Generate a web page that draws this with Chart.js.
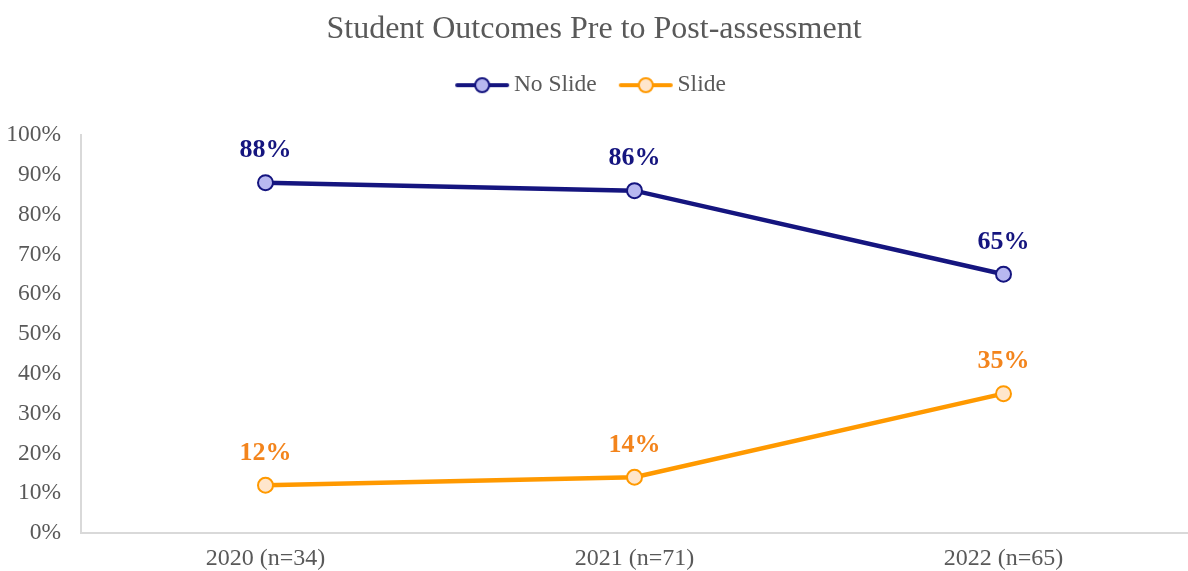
<!DOCTYPE html>
<html>
<head>
<meta charset="utf-8">
<script src="https://cdn.jsdelivr.net/npm/chart.js@4.4.0/dist/chart.umd.min.js"></script>
<style>
  html, body { margin: 0; padding: 0; background: #fff; }
  #wrap { width: 1188px; height: 571px; }
</style>
</head>
<body>
<div id="wrap"><canvas id="chart"></canvas></div>
<script>
// Datos del gráfico
const categories = ['2020 (n=34)', '2021 (n=71)', '2022 (n=65)'];
const noSlide = [88, 86, 65];
const slide = [12, 14, 35];
const yTicks = [0, 10, 20, 30, 40, 50, 60, 70, 80, 90, 100];

const navy = '#15157f';
const navyFill = '#b8b8f0';
const orange = '#ff9900';
const orangeFill = '#ffe6cc';
const orangeText = '#f3841c';
const grey = '#595959';
const serif = '"Liberation Serif", "Times New Roman", serif';

// Icono de la leyenda: línea con círculo
function legendIcon(stroke, fill) {
    const c = document.createElement('canvas');
    c.width = 56; c.height = 20;
    const g = c.getContext('2d');
    g.strokeStyle = stroke;
    g.lineWidth = 4;
    g.lineCap = 'round';
    g.beginPath();
    g.moveTo(3, 10); g.lineTo(53, 10);
    g.stroke();
    g.beginPath();
    g.arc(28, 10, 7, 0, Math.PI * 2);
    g.fillStyle = fill;
    g.fill();
    g.lineWidth = 2;
    g.stroke();
    return c;
}
const icons = [legendIcon(navy, navyFill), legendIcon(orange, orangeFill)];

// Etiquetas de datos sobre cada punto
const valueLabels = {
    id: 'valueLabels',
    afterDatasetsDraw(chart) {
        const ctx = chart.ctx;
        ctx.save();
        ctx.font = 'bold 26px ' + serif;
        ctx.textAlign = 'center';
        ctx.textBaseline = 'middle';
        chart.data.datasets.forEach((ds, i) => {
            const meta = chart.getDatasetMeta(i);
            ctx.fillStyle = ds.labelColor;
            meta.data.forEach((pt, j) => {
                ctx.fillText(ds.data[j] + '%', pt.x, pt.y - 32);
            });
        });
        ctx.restore();
    }
};

const chart = new Chart(document.getElementById('chart'), {
    type: 'line',
    data: {
        labels: categories,
        datasets: [{
            label: 'No Slide',
            data: noSlide,
            borderColor: navy,
            backgroundColor: navyFill,
            pointBackgroundColor: navyFill,
            pointBorderColor: navy,
            labelColor: navy,
            borderWidth: 4.5,
            pointRadius: 7.5,
            pointBorderWidth: 2,
            tension: 0
        }, {
            label: 'Slide',
            data: slide,
            borderColor: orange,
            backgroundColor: orangeFill,
            pointBackgroundColor: orangeFill,
            pointBorderColor: orange,
            labelColor: orangeText,
            borderWidth: 4.5,
            pointRadius: 7.5,
            pointBorderWidth: 2,
            tension: 0
        }]
    },
    options: {
        responsive: true,
        maintainAspectRatio: false,
        animation: false,
        layout: { autoPadding: false, padding: { left: 0, right: 0, top: 0, bottom: 0 } },
        plugins: {
            title: {
                display: true,
                text: 'Student Outcomes Pre to Post-assessment',
                color: grey,
                font: { family: serif, size: 32, weight: 'normal' },
                padding: { top: 10, bottom: -4 }
            },
            // espacio vacío entre la leyenda y el gráfico
            subtitle: {
                display: true,
                text: '',
                weight: 500,
                font: { size: 10, lineHeight: 1 },
                padding: { top: 18, bottom: 0 }
            },
            legend: {
                position: 'top',
                labels: {
                    color: grey,
                    font: { family: serif, size: 23.5 },
                    usePointStyle: true,
                    pointStyleWidth: 40,
                    padding: 29,
                    generateLabels(chart) {
                        const items = Chart.defaults.plugins.legend.labels.generateLabels(chart);
                        items.forEach((it, i) => { it.pointStyle = icons[i]; });
                        return items;
                    }
                }
            },
            tooltip: { enabled: false }
        },
        scales: {
            x: {
                offset: true,
                afterFit(scale) {
                    scale.paddingLeft = 0;
                    scale.paddingRight = 0;
                    scale.height = 38;
                },
                grid: { display: false, drawTicks: false },
                border: { color: '#d9d9d9', width: 2 },
                ticks: { color: grey, font: { family: serif, size: 24, lineHeight: 1 }, padding: 14 }
            },
            y: {
                min: 0,
                max: 100,
                afterFit(scale) { scale.width = 81; },
                afterBuildTicks(scale) { scale.ticks = yTicks.map(v => ({ value: v })); },
                grid: { display: false, drawTicks: false },
                border: { color: '#d9d9d9', width: 2 },
                ticks: {
                    color: grey,
                    font: { family: serif, size: 23.5 },
                    padding: 20,
                    callback: v => v + '%'
                }
            }
        }
    },
    plugins: [valueLabels]
});
</script>
</body>
</html>
